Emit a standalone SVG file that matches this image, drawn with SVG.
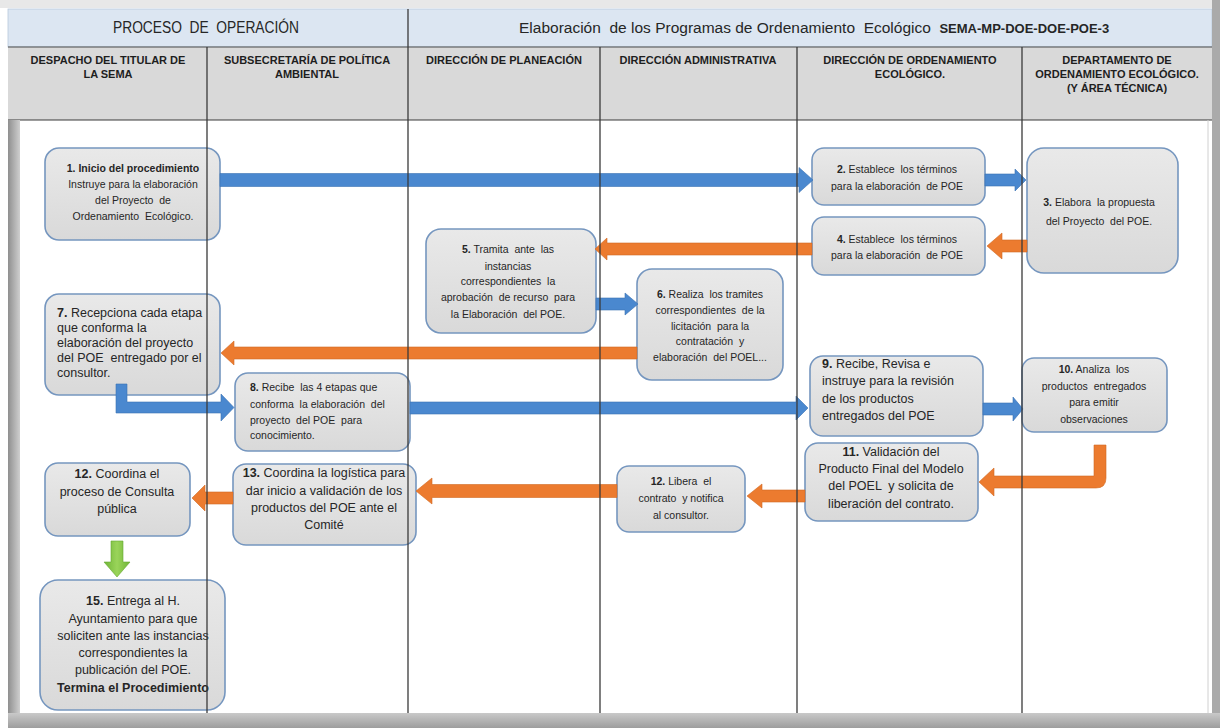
<svg xmlns="http://www.w3.org/2000/svg" width="1220" height="728" viewBox="0 0 1220 728">
<defs>
<linearGradient id="ng" x1="0" y1="0" x2="0" y2="1"><stop offset="0" stop-color="#e9e9e9"/><stop offset="1" stop-color="#d9d9d9"/></linearGradient>
<linearGradient id="lb" x1="0" y1="0" x2="1" y2="0"><stop offset="0" stop-color="#8f8f8f"/><stop offset="1" stop-color="#cfcfcf"/></linearGradient>
<linearGradient id="bb" x1="0" y1="0" x2="0" y2="1"><stop offset="0" stop-color="#c9c9c9"/><stop offset="1" stop-color="#9d9d9d"/></linearGradient>
<linearGradient id="gg" x1="0" y1="0" x2="1" y2="0"><stop offset="0" stop-color="#6fb536"/><stop offset="0.5" stop-color="#9ad45a"/><stop offset="1" stop-color="#6fb536"/></linearGradient>
</defs>
<style>
text{font-family:"Liberation Sans",Arial,sans-serif;fill:#262626;white-space:pre}
.n{fill:url(#ng);stroke:#7596bf;stroke-width:1.6}
.s{font-size:10.5px}
.l{font-size:12.5px}
.h{font-size:11px;font-weight:bold;fill:#1e1e1e;text-anchor:middle}
.c{text-anchor:middle}
.b{font-weight:bold}
.lane{stroke:#3a3a3a;stroke-width:1.3;fill:none}
.blue{fill:#4a88cf;stroke:#3b72b3;stroke-width:0.6}
.orange{fill:#ec7b2f;stroke:#d06a24;stroke-width:0.6}
.green{fill:url(#gg);stroke:#67a832;stroke-width:0.6}
</style>
<g id="frame">
<rect x="0" y="0" width="1220" height="728" fill="#ffffff"/>
<rect x="0" y="0" width="1220" height="8" fill="#e8e8e8"/>
<rect x="8" y="9" width="1204" height="38" fill="#dce6f2" stroke="#b7c8dc" stroke-width="0.8"/>
<rect x="8" y="47" width="1204" height="73" fill="#d9d9d9"/>
<line x1="8" y1="47" x2="1212" y2="47" stroke="#4a4a4a" stroke-width="1.2"/>
<line x1="8" y1="120" x2="1212" y2="120" stroke="#3a3a3a" stroke-width="1.2"/>
<rect x="8" y="120" width="12" height="593" fill="url(#lb)"/>
<rect x="1212" y="0" width="8" height="728" fill="#aaaaaa"/>
<line x1="1208" y1="120" x2="1208" y2="713" stroke="#d0d0d0" stroke-width="1"/>
<rect x="8" y="713" width="1212" height="15" fill="url(#bb)"/>
</g>
<g id="title">
<text x="206" y="33" class="c" font-size="16" textLength="186" lengthAdjust="spacingAndGlyphs">PROCESO  DE  OPERACIÓN</text>
<text x="519" y="33" font-size="15.5">Elaboración  de los Programas de Ordenamiento  Ecológico  <tspan font-size="13" font-weight="bold">SEMA-MP-DOE-DOE-POE-3</tspan></text>
</g>
<g id="lane-headers">
<text class="h" x="108" y="64">DESPACHO DEL TITULAR DE</text>
<text class="h" x="108" y="78">LA SEMA</text>
<text class="h" x="307" y="64">SUBSECRETARÍA DE POLÍTICA</text>
<text class="h" x="307" y="78">AMBIENTAL</text>
<text class="h" x="504" y="64">DIRECCIÓN DE PLANEACIÓN</text>
<text class="h" x="698" y="64">DIRECCIÓN ADMINISTRATIVA</text>
<text class="h" x="910" y="64">DIRECCIÓN DE ORDENAMIENTO</text>
<text class="h" x="910" y="78">ECOLÓGICO.</text>
<text class="h" x="1117" y="64">DEPARTAMENTO DE</text>
<text class="h" x="1117" y="78">ORDENAMIENTO ECOLÓGICO.</text>
<text class="h" x="1117" y="92">(Y ÁREA TÉCNICA)</text>
</g>
<g id="node1">
<rect class="n" x="45" y="148" width="175" height="92" rx="14"/>
<text class="s c b" x="133" y="172">1. Inicio del procedimiento</text>
<text class="s c" x="133" y="188">Instruye para la elaboración</text>
<text class="s c" x="133" y="204">del Proyecto  de</text>
<text class="s c" x="133" y="220">Ordenamiento  Ecológico.</text>
</g>
<g id="node2">
<rect class="n" x="812" y="148" width="173" height="57" rx="12"/>
<text class="s c" x="897" y="173"><tspan class="b">2.</tspan> Establece  los términos</text>
<text class="s c" x="897" y="190">para la elaboración  de POE</text>
</g>
<g id="node3">
<rect class="n" x="1027" y="148" width="151" height="125" rx="17"/>
<text class="s c" x="1099" y="206"><tspan class="b">3.</tspan> Elabora  la propuesta</text>
<text class="s c" x="1099" y="225">del Proyecto  del POE.</text>
</g>
<g id="node4">
<rect class="n" x="812" y="217" width="173" height="58" rx="12"/>
<text class="s c" x="897" y="243"><tspan class="b">4.</tspan> Establece  los términos</text>
<text class="s c" x="897" y="259">para la elaboración  de POE</text>
</g>
<g id="node5">
<rect class="n" x="426" y="229" width="170" height="104" rx="15"/>
<text class="s c" x="508" y="253"><tspan class="b">5.</tspan> Tramita  ante  las</text>
<text class="s c" x="508" y="270">instancias</text>
<text class="s c" x="508" y="285">correspondientes  la</text>
<text class="s c" x="508" y="301">aprobación  de recurso  para</text>
<text class="s c" x="508" y="318">la Elaboración  del POE.</text>
</g>
<g id="node6">
<rect class="n" x="637" y="269" width="146" height="111" rx="15"/>
<text class="s c" x="710" y="298"><tspan class="b">6.</tspan> Realiza  los tramites</text>
<text class="s c" x="710" y="314">correspondientes  de la</text>
<text class="s c" x="710" y="330">licitación  para la</text>
<text class="s c" x="710" y="345">contratación  y</text>
<text class="s c" x="710" y="361">elaboración  del POEL...</text>
</g>
<g id="node7">
<rect class="n" x="45" y="294" width="175" height="101" rx="14"/>
<text class="l" x="57" y="317"><tspan class="b">7.</tspan> Recepciona cada etapa</text>
<text class="l" x="57" y="332">que conforma la</text>
<text class="l" x="57" y="347">elaboración del proyecto</text>
<text class="l" x="57" y="362">del POE  entregado por el</text>
<text class="l" x="57" y="377">consultor.</text>
</g>
<g id="node8">
<rect class="n" x="235" y="373" width="175" height="78" rx="13"/>
<text class="s" x="250" y="391"><tspan class="b">8.</tspan> Recibe  las 4 etapas que</text>
<text class="s" x="250" y="408">conforma  la elaboración  del</text>
<text class="s" x="250" y="424">proyecto  del POE  para</text>
<text class="s" x="250" y="439">conocimiento.</text>
</g>
<g id="node9">
<rect class="n" x="810" y="356" width="173" height="80" rx="13"/>
<text class="l" x="822" y="368"><tspan class="b">9.</tspan> Recibe, Revisa e</text>
<text class="l" x="822" y="385">instruye para la revisión</text>
<text class="l" x="822" y="403">de los productos</text>
<text class="l" x="822" y="420">entregados del POE</text>
</g>
<g id="node10">
<rect class="n" x="1022" y="358" width="145" height="74" rx="12"/>
<text class="s c" x="1094" y="373"><tspan class="b">10.</tspan> Analiza  los</text>
<text class="s c" x="1094" y="390">productos  entregados</text>
<text class="s c" x="1094" y="406">para emitir</text>
<text class="s c" x="1094" y="423">observaciones</text>
</g>
<g id="node11">
<rect class="n" x="805" y="443" width="173" height="78" rx="13"/>
<text class="l c" x="891" y="456"><tspan class="b">11.</tspan> Validación del</text>
<text class="l c" x="891" y="473">Producto Final del Modelo</text>
<text class="l c" x="891" y="490">del POEL  y solicita de</text>
<text class="l c" x="891" y="508">liberación del contrato.</text>
</g>
<g id="node12-libera">
<rect class="n" x="617" y="466" width="128" height="66" rx="12"/>
<text class="s c" x="681" y="485"><tspan class="b">12.</tspan> Libera  el</text>
<text class="s c" x="681" y="502">contrato  y notifica</text>
<text class="s c" x="681" y="519">al consultor.</text>
</g>
<g id="node13">
<rect class="n" x="233" y="464" width="183" height="81" rx="13"/>
<text class="l c" x="324" y="477"><tspan class="b">13.</tspan> Coordina la logística para</text>
<text class="l c" x="324" y="495">dar inicio a validación de los</text>
<text class="l c" x="324" y="512">productos del POE ante el</text>
<text class="l c" x="324" y="529">Comité</text>
</g>
<g id="node12-coordina">
<rect class="n" x="45" y="463" width="145" height="73" rx="13"/>
<text class="l c" x="117" y="478"><tspan class="b">12.</tspan> Coordina el</text>
<text class="l c" x="117" y="496">proceso de Consulta</text>
<text class="l c" x="117" y="513">pública</text>
</g>
<g id="node15">
<rect class="n" x="40" y="580" width="185" height="130" rx="18"/>
<text class="l c" x="133" y="605"><tspan class="b">15.</tspan> Entrega al H.</text>
<text class="l c" x="133" y="623">Ayuntamiento para que</text>
<text class="l c" x="133" y="640">soliciten ante las instancias</text>
<text class="l c" x="133" y="657">correspondientes la</text>
<text class="l c" x="133" y="674">publicación del POE.</text>
<text class="l c b" x="133" y="692">Termina el Procedimiento</text>
</g>
<g id="connectors">
<polygon class="blue" points="220,173.5 799,173.5 799,167.5 813,180 799,192.5 799,186.5 220,186.5"/>
<polygon class="blue" points="985,174 1015,174 1015,169 1026,180 1015,191 1015,186 985,186"/>
<polygon class="orange" points="1027,240 1002,240 1002,233 987,246 1002,259 1002,252 1027,252"/>
<polygon class="orange" points="812,243 607,243 607,238 595,249 607,260 607,255 812,255"/>
<polygon class="blue" points="596,298 625,298 625,293 638,304 625,315 625,310 596,310"/>
<polygon class="orange" points="637,347 234,347 234,341 221,353 234,365 234,359 637,359"/>
<polygon class="blue" points="116,384 127,384 127,402 221,402 221,394 234,407.5 221,421 221,413 116,413"/>
<polygon class="blue" points="410,402 796,402 796,396 808,408 796,420 796,414 410,414"/>
<polygon class="blue" points="983,403 1013,403 1013,397 1023,409 1013,421 1013,415 983,415"/>
<path class="orange" d="M1106,445 L1106,478 Q1106,488 1096,488 L994,488 L994,496 L979,482 L994,468 L994,476 L1094,476 L1094,445 Z"/>
<polygon class="orange" points="805,490 762,490 762,484 747,496 762,508 762,502 805,502"/>
<polygon class="orange" points="617,484.5 432,484.5 432,478 416,491 432,504 432,497.5 617,497.5"/>
<polygon class="orange" points="233,492 205,492 205,485 192,498 205,511 205,504 233,504"/>
<polygon class="green" points="111,541 123,541 123,562 130,562 117,577 104,562 111,562"/>
</g>
<g id="lanes">
<line class="lane" x1="408" y1="9" x2="408" y2="713"/>
<line class="lane" x1="207" y1="47" x2="207" y2="713"/>
<line class="lane" x1="600" y1="47" x2="600" y2="713"/>
<line class="lane" x1="797" y1="47" x2="797" y2="713"/>
<line class="lane" x1="1022" y1="47" x2="1022" y2="713"/>
</g>
</svg>
